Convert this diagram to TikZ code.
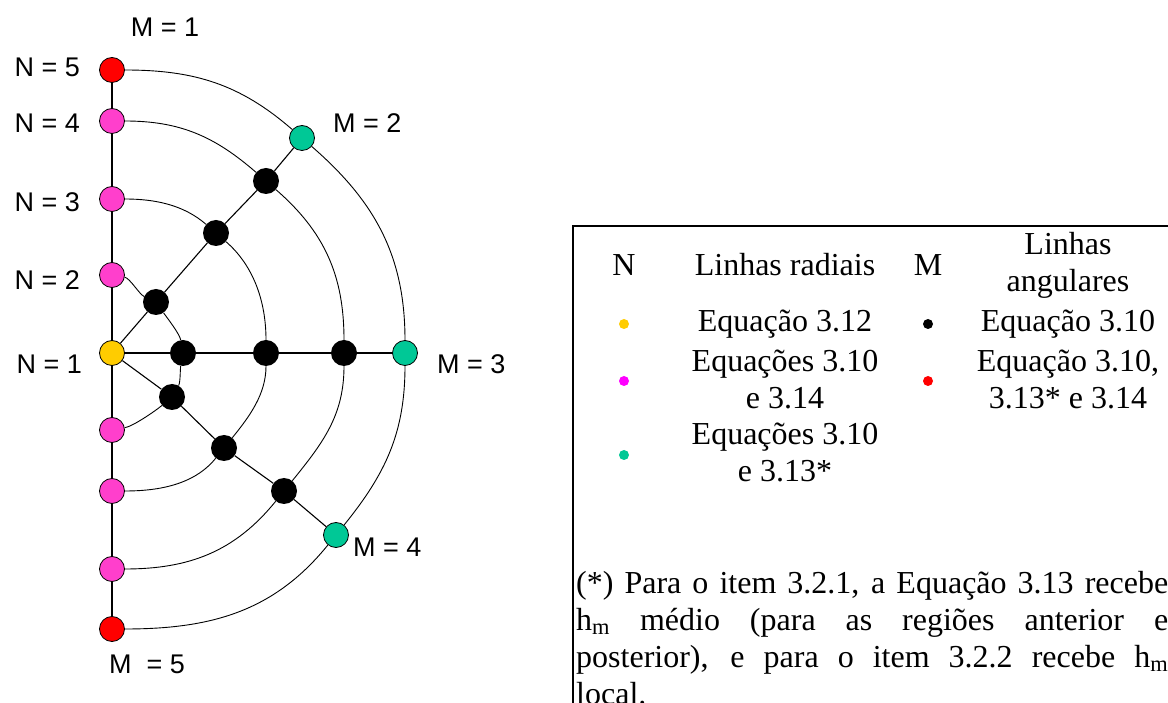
\documentclass[tikz,border=0pt]{standalone}
\usepackage{fontspec}
\setmainfont{Liberation Serif}
\newfontfamily\labelfont{Liberation Sans}
\usetikzlibrary{positioning}

\definecolor{nyellow}{HTML}{FFCC00}
\definecolor{npink}{HTML}{FF3FCC}
\definecolor{nteal}{HTML}{00C896}
\definecolor{nred}{HTML}{FF0000}
\definecolor{lmagenta}{HTML}{FF00FF}

\begin{document}
\begin{tikzpicture}[
  x=1pt, y=1pt,
  gridpt/.style={circle, draw=black, line width=0.8pt, fill=#1, minimum size=25pt, inner sep=0pt},
  inpt/.style={circle, fill=black, minimum size=26pt, inner sep=0pt},
  lbl/.style={font=\labelfont\fontsize{27}{30}\selectfont, inner sep=0pt},
  cell/.style={font=\fontsize{32}{37}\selectfont, align=center, inner sep=0pt},
  legdot/.style={circle, fill=#1, minimum size=10pt, inner sep=0pt},
  axis/.style={line width=1.6pt},
  spoke/.style={line width=1.1pt},
  wire/.style={line width=0.9pt}
]
\useasboundingbox (0,0) rectangle (1168,702);

% points on the axis
\node[gridpt=nred]    (n5) at (112,632) {};
\node[gridpt=npink]   (n4) at (112,581) {};
\node[gridpt=npink]   (n3) at (112,503) {};
\node[gridpt=npink]   (n2) at (112,427) {};
\node[gridpt=nyellow] (n1) at (112,349) {};
\node[gridpt=npink]   (s2) at (112,272) {};
\node[gridpt=npink]   (s3) at (112,211) {};
\node[gridpt=npink]   (s4) at (112,133) {};
\node[gridpt=nred]    (s5) at (112,73) {};

% M = 2
\node[inpt] (u2) at (156,400) {};
\node[inpt] (u3) at (216,469) {};
\node[inpt] (u4) at (266,521) {};
\node[gridpt=nteal] (u5) at (302,564) {};
% M = 3
\node[inpt] (h2) at (183,349) {};
\node[inpt] (h3) at (266,349) {};
\node[inpt] (h4) at (344,349) {};
\node[gridpt=nteal] (h5) at (405,349) {};
% M = 4
\node[inpt] (d2) at (172,305) {};
\node[inpt] (d3) at (224,254) {};
\node[inpt] (d4) at (284,211) {};
\node[gridpt=nteal] (d5) at (336,167) {};

\draw[axis] (n5) -- (n4) -- (n3) -- (n2) -- (n1) -- (s2) -- (s3) -- (s4) -- (s5);
\draw[spoke] (n1) -- (u2) -- (u3) -- (u4) -- (u5);
\draw[axis] (n1) -- (h2) -- (h3) -- (h4) -- (h5);
\draw[spoke] (n1) -- (d2) -- (d3) -- (d4) -- (d5);
\draw[wire, looseness=0.5] (n2) to[out=-10, in=155] (u2) to[out=-55, in=100] (h2)
  to[out=-100, in=60] (d2) to[out=-140, in=10] (s2);
\foreach \k/\lo in {3/0.9, 4/1, 5/1}
  \draw[wire, looseness=\lo] (n\k) to[out=0, in=139] (u\k) to[out=-41, in=90] (h\k)
    to[out=-90, in=51] (d\k) to[out=-129, in=0] (s\k);

% labels
\node[lbl, left=19pt of n5, yshift=3pt] {N = 5};
\node[lbl, left=19pt of n4, yshift=-2pt] {N = 4};
\node[lbl, left=19pt of n3, yshift=-3pt] {N = 3};
\node[lbl, left=19pt of n2, yshift=-5pt] {N = 2};
\node[lbl, left=17pt of n1, yshift=-11pt] {N = 1};
\node[lbl] (m1) at (165,675) {M = 1};
\node[lbl, right=18pt of u5, yshift=15pt] {M = 2};
\node[lbl, right=19pt of h5, yshift=-11pt] {M = 3};
\node[lbl, right=4pt of d5, yshift=-12pt] {M = 4};
\node[lbl] (m5) at (147,38) {M~ = 5};

% legend table
\coordinate (tabtl) at (573,476);
\draw[line width=1.8pt] (1172,476) -- (tabtl) -- (573,-4);

\node[cell] (hn) at (624,437) {N};
\node[cell] (hrad) at (785,437) {Linhas radiais};
\node[cell] (hm) at (928,437) {M};
\node[cell] (hang) at (1068,437) {Linhas\\angulares};

\node[legdot=nyellow] (dy) at (624,378) {};
\node[cell] (t1) at (785,378) {Equação 3.12};
\node[legdot=black] (dk) at (928,378) {};
\node[cell] (a1) at (1068,378) {Equação 3.10};

\node[legdot=lmagenta] (dp) at (624,321) {};
\node[cell] (t2) at (785,323) {Equações 3.10\\e 3.14};
\node[legdot=nred] (dr) at (928,321) {};
\node[cell] (a2) at (1068,323) {Equação 3.10,\\3.13* e 3.14};

\node[legdot=nteal] (dt) at (624,247) {};
\node[cell] (t3) at (785,250) {Equações 3.10\\e 3.13*};

\node[font=\fontsize{32}{37}\selectfont, text width=592pt, align=justify,
  inner sep=0pt, anchor=north west] (note) at (576,131)
  {(*) Para o item 3.2.1, a Equação 3.13 recebe\linebreak
   h\textsubscript{m} médio (para as regiões anterior e\linebreak
   posterior), e para o item 3.2.2 recebe h\textsubscript{m}\linebreak
   local.};

\end{tikzpicture}
\end{document}
